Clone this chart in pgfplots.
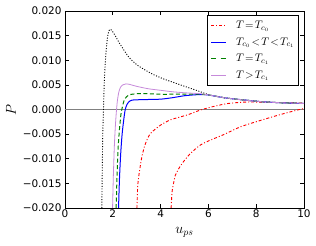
\documentclass[border=0pt]{standalone}
\usepackage{fontspec}
\setmainfont{DejaVu Sans}
\usepackage{pgfplots}
\pgfplotsset{compat=1.18}
\definecolor{mplgreen}{rgb}{0,0.5,0}
\definecolor{mplpink}{RGB}{198,138,218}
\newcommand{\sampledd}{{\color{red}\rule[2.6bp]{3bp}{0.9bp}\hspace{2bp}\rule[2.6bp]{1bp}{0.9bp}\hspace{2bp}\rule[2.6bp]{3bp}{0.9bp}\hspace{2bp}\rule[2.6bp]{1bp}{0.9bp}\hspace{1bp}}}
\newcommand{\samplesolid}{\textcolor{blue}{\rule[2.5bp]{15bp}{1bp}}}
\newcommand{\sampledash}{\textcolor{mplgreen}{\rule[2.5bp]{5bp}{1bp}\hspace{4.5bp}\rule[2.5bp]{5bp}{1bp}\hspace{0.5bp}}}
\newcommand{\samplepink}{\textcolor{mplpink}{\rule[2.6bp]{15bp}{0.8bp}}}
\begin{document}
\begin{tikzpicture}
\begin{axis}[
  scale only axis, width=239bp, height=197bp,
  xmin=0, xmax=10, ymin=-0.02, ymax=0.02,
  xtick={0,2,4,6,8,10},
  ytick={-0.02,-0.015,-0.01,-0.005,0,0.005,0.01,0.015,0.02},
  yticklabels={−0.020,−0.015,−0.010,−0.005,0.000,0.005,0.010,0.015,0.020},
  scaled y ticks=false,
  /pgf/number format/assume math mode=true,
  tick align=inside, major tick length=4bp,
  major tick style={black, line width=0.6bp},
  axis line style={line width=0.8bp},
  ticklabel style={font=\fontsize{10.5}{12}\selectfont},
  xticklabel style={yshift=1.5bp},
  xlabel={$u_{ps}$}, ylabel={$P$},
  label style={font=\fontsize{14}{16}\selectfont},
  xlabel style={yshift=-2.5bp},
]
\addplot[gray, line width=0.8bp, forget plot] coordinates {(0,0) (10,0)};
% black dotted
\addplot[draw=black, line width=0.9bp, dash pattern=on 1bp off 1.65bp, smooth, tension=0.4, forget plot] coordinates {
(1.54,-0.020) (1.56,-0.012) (1.58,-0.005) (1.61,0.0) (1.64,0.005) (1.68,0.009) (1.73,0.0125)
(1.79,0.0150) (1.85,0.0161) (1.90,0.0163) (1.97,0.0160) (2.1,0.0150) (2.3,0.0133) (2.66,0.0107)
(3.0,0.0091) (3.36,0.0080) (3.7,0.0071) (4.13,0.0062) (4.83,0.0050) (5.67,0.0036) (6.08,0.0029)
(6.79,0.0023) (8.19,0.0016) (9,0.00138) (10,0.00122)};
% red 1
\addplot[color=red, line width=0.9bp, dash pattern=on 3bp off 2bp on 1bp off 2bp, smooth, tension=0.4] coordinates {
(3.01,-0.020) (3.04,-0.0157) (3.08,-0.0138) (3.12,-0.0124) (3.22,-0.0095) (3.36,-0.0070)
(3.57,-0.0049) (3.99,-0.0032) (4.41,-0.0021) (4.83,-0.0015) (5.18,-0.0010) (5.67,-0.0001)
(6.2,0.0006) (6.79,0.0012) (7.5,0.0015) (8.19,0.0015) (9,0.0014) (10,0.0013)};
% red 2
\addplot[color=red, line width=0.9bp, dash pattern=on 3bp off 2bp on 1bp off 2bp, smooth, tension=0.4] coordinates {
(4.44,-0.020) (4.48,-0.0167) (4.55,-0.0148) (4.62,-0.0133) (4.76,-0.0120) (4.94,-0.0107)
(5.25,-0.0089) (5.67,-0.0072) (6.09,-0.0062) (6.64,-0.0051) (7.35,-0.0035) (8.19,-0.0022)
(9.03,-0.0010) (9.73,-0.0001) (10,0.0002)};
% blue
\addplot[color=blue, line width=1bp, smooth, tension=0.4] coordinates {
(2.24,-0.020) (2.28,-0.014) (2.33,-0.009) (2.39,-0.005) (2.46,-0.002) (2.52,0.0) (2.59,0.0010)
(2.66,0.0015) (2.8,0.0019) (3.2,0.0020) (4.0,0.0021) (4.5,0.0024) (5.0,0.0028) (5.5,0.0030)
(5.9,0.0030) (6.3,0.0027) (6.79,0.0023) (8.19,0.0016) (9,0.00138) (10,0.00122)};
% green dashed
\addplot[color=mplgreen, line width=1bp, dash pattern=on 4bp off 2.5bp, smooth, tension=0.4] coordinates {
(2.14,-0.020) (2.18,-0.013) (2.22,-0.008) (2.28,-0.004) (2.34,-0.001) (2.40,0.0005) (2.47,0.0018)
(2.56,0.0025) (2.7,0.0030) (3.0,0.0032) (3.5,0.0032) (4.0,0.0031) (4.5,0.0031) (5.0,0.0031)
(5.67,0.0031) (6.08,0.0029) (6.79,0.0023) (8.19,0.0016) (9,0.00138) (10,0.00122)};
% pink
\addplot[color=mplpink, line width=0.8bp, smooth, tension=0.4] coordinates {
(1.99,-0.020) (2.02,-0.014) (2.06,-0.008) (2.10,-0.004) (2.14,-0.001) (2.19,0.0017) (2.25,0.0035)
(2.32,0.0045) (2.42,0.0050) (2.55,0.0052) (2.7,0.0051) (3.0,0.0047) (3.5,0.0042) (4.0,0.0039)
(4.5,0.0036) (5.0,0.0034) (5.67,0.0032) (6.08,0.0029) (6.79,0.0023) (8.19,0.0016) (9,0.00138) (10,0.00122)};
\node[draw=black, fill=white, line width=0.8bp, inner xsep=4bp, inner ysep=2bp, anchor=north east,
  font=\fontsize{11}{13}\selectfont] at (rel axis cs:0.979,0.98) {%
  \renewcommand{\arraystretch}{1.27}%
  \begin{tabular}{@{}l@{\hspace{10bp}}l@{}}
  \textcolor{white}{\rule{0pt}{0pt}}\textcolor{red}{\rule{0pt}{0pt}}\sampledd & $T\!=\!T_{c_0}$\\
  \samplesolid & $T_{c_0}\!<\!T\!<\!T_{c_1}$\\
  \sampledash & $T\!=\!T_{c_1}$\\
  \samplepink & $T\!>\!T_{c_1}$
  \end{tabular}};
\end{axis}
\pgfresetboundingbox
\path ([shift={(-65bp,-38bp)}]current axis.south west) rectangle ([shift={(12bp,11bp)}]current axis.north east);
\end{tikzpicture}
\end{document}
